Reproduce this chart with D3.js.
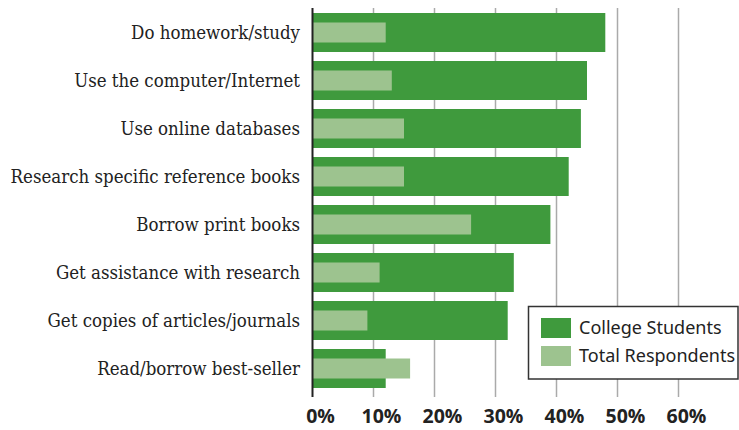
<!DOCTYPE html>
<html><head><meta charset="utf-8">
<script src="https://cdn.jsdelivr.net/npm/d3@7/dist/d3.min.js"></script>
<style>body{margin:0;background:#fff}svg{display:block}</style>
</head><body><svg id="c" width="739" height="430"></svg>
<script>
const categories = ["Do homework/study","Use the computer/Internet","Use online databases","Research specific reference books","Borrow print books","Get assistance with research","Get copies of articles/journals","Read/borrow best-seller"];
const college = [48,45,44,42,39,33,32,12];
const total = [12,13,15,15,26,11,9,16];
const tickValues = [0,10,20,30,40,50,60];
const tickLabels = ["0%","10%","20%","30%","40%","50%","60%"];
const seriesNames = ["College Students","Total Respondents"];
const colors = ["#3f9a3d","#9dc38f"];

const svg = d3.select("#c");
const x = d3.scaleLinear().domain([0,70]).range([312.5,739.5]);
const y = d3.scaleBand().domain(categories).range([8.5,392.5]).paddingInner(0.1875).paddingOuter(0.09375);
const gridTop = 8, gridBottom = 397;

svg.append("g").selectAll("line").data(tickValues.filter(v=>v>0)).join("line")
  .attr("x1",d=>x(d)).attr("x2",d=>x(d)).attr("y1",gridTop).attr("y2",gridBottom)
  .attr("stroke","#aaa").attr("stroke-width",1.5);

const rows = categories.map((c,i)=>({c,college:college[i],total:total[i]}));
svg.append("g").selectAll("rect").data(rows).join("rect")
  .attr("x",x(0)).attr("y",d=>y(d.c)).attr("width",d=>x(d.college)-x(0)).attr("height",y.bandwidth())
  .attr("fill",colors[0]);
const lh = y.bandwidth()*20/39;
svg.append("g").selectAll("rect").data(rows).join("rect")
  .attr("x",x(0)).attr("y",d=>y(d.c)+(y.bandwidth()-lh)/2).attr("width",d=>x(d.total)-x(0)).attr("height",lh)
  .attr("fill",colors[1]);

svg.append("line").attr("x1",x(0)).attr("x2",x(0)).attr("y1",gridTop).attr("y2",gridBottom)
  .attr("stroke","#222").attr("stroke-width",2);

svg.append("g").selectAll("text").data(categories).join("text")
  .attr("x",300).attr("y",d=>y(d)+y.bandwidth()/2).attr("dy","0.35em")
  .attr("text-anchor","end").attr("font-family","'DejaVu Serif Condensed','DejaVu Serif',serif")
  .attr("font-size",18.5).attr("fill","#222").text(d=>d);

svg.append("g").selectAll("text").data(tickValues).join("text")
  .attr("x",d=>x(d)+8).attr("y",423).attr("text-anchor","middle")
  .attr("font-family","'Open Sans',sans-serif").attr("font-weight","bold")
  .attr("font-size",19.5).attr("fill","#222").text((d,i)=>tickLabels[i]);

const lg = svg.append("g");
lg.append("rect").attr("x",528.5).attr("y",306.5).attr("width",209.5).attr("height",72.5)
  .attr("fill","#fff").attr("stroke","#333").attr("stroke-width",1.5);
seriesNames.forEach((s,i)=>{
  lg.append("rect").attr("x",541).attr("y",318+i*28).attr("width",30).attr("height",20).attr("fill",colors[i]);
  lg.append("text").attr("x",579).attr("y",328+i*28).attr("dy","0.35em")
    .attr("font-family","'Noto Sans',sans-serif").attr("font-size",18).attr("fill","#222").text(s);
});
</script></body></html>
